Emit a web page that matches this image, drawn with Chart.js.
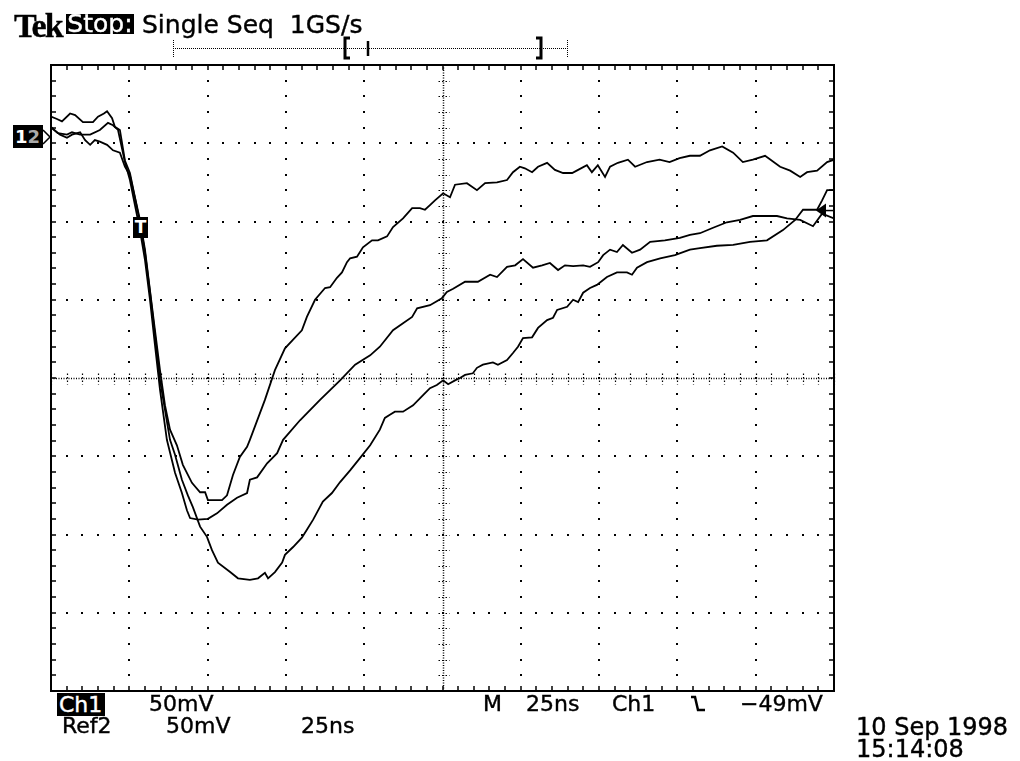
<!DOCTYPE html>
<html>
<head>
<meta charset="utf-8">
<title>Tek Single Seq 1GS/s</title>
<script src="https://cdn.jsdelivr.net/npm/chart.js@4.4.1/dist/chart.umd.min.js"></script>
<style>
  html, body { margin: 0; padding: 0; background: #fff; }
  #wrap { position: relative; width: 1020px; height: 761px; overflow: hidden; }
  #scope { position: absolute; left: 0; top: 0; }
  .lbl { position: absolute; font-family: 'DejaVu Sans', sans-serif; color: #000; line-height: 1; white-space: pre; -webkit-text-stroke: 0.4px #000; }
  .inv { background: #000; color: #fff; overflow: hidden; -webkit-text-stroke: 0.4px #fff; }
</style>
</head>
<body>
<div id="wrap">
  <canvas id="scope" width="1020" height="761" style="width:1020px;height:761px"></canvas>

  <div class="lbl" style="left:14px;top:7px;font:bold 34px 'Liberation Serif',serif;letter-spacing:-2px">Tek</div>
  <div class="lbl inv" style="left:66px;top:14px;width:68px;height:20px;font-size:25px;line-height:20px;text-align:center">Stop:</div>
  <div class="lbl" style="left:142px;top:12px;font-size:25px">Single Seq  1GS/s</div>

  <div class="lbl inv" style="left:13px;top:125px;width:30px;height:23px;font-size:18px;font-weight:bold;line-height:23px;padding-left:2px;box-sizing:border-box;-webkit-text-stroke:0">1<span style="color:#aaa">2</span></div>
  <div class="lbl inv" style="left:133px;top:217px;width:15px;height:21px;font-size:17px;font-weight:bold;line-height:21px;text-align:center;-webkit-text-stroke:0">T</div>

  <div class="lbl inv" style="left:57px;top:693px;width:48px;height:23px;font-size:22px;line-height:23px;padding-left:2px;box-sizing:border-box">Ch1</div>
  <div class="lbl" style="left:149px;top:693px;font-size:22px">50mV</div>
  <div class="lbl" style="left:483px;top:693px;font-size:22px">M</div>
  <div class="lbl" style="left:526px;top:693px;font-size:22px">25ns</div>
  <div class="lbl" style="left:612px;top:693px;font-size:22px">Ch1</div>
  <div class="lbl" style="left:740px;top:693px;font-size:22px">−49mV</div>

  <div class="lbl" style="left:62px;top:715px;font-size:22px">Ref2</div>
  <div class="lbl" style="left:166px;top:715px;font-size:22px">50mV</div>
  <div class="lbl" style="left:301px;top:715px;font-size:22px">25ns</div>

  <div class="lbl" style="left:856px;top:715px;font-size:24px">10 Sep 1998</div>
  <div class="lbl" style="left:856px;top:737px;font-size:24px">15:14:08</div>
</div>

<script>
// ==========================================
// Screen setup (25 ns/div, 50 mV/div)
// ==========================================

const T_MIN = 0, T_MAX = 250, T_DIV = 25;      // ns
const V_MIN = -200, V_MAX = 200, V_DIV = 50;   // mV
const H_DIVS = 10, V_DIVS = 8, MINOR = 5;

const GND_LEVEL = 154;   // "1 2" marker on the left edge, mV
const REF_LEVEL = 107;   // arrow on the right edge, mV

// ==========================================
// Traces (time ns, level mV)
// ==========================================

const TIME_A = [0, 1.9, 3.5, 6.1, 7.7, 10.2, 13.4, 15.0, 16.9, 17.9, 19.5, 20.4, 22.0, 23.6, 25.2, 26.8, 28.4, 30.0, 31.6, 33.2,
    34.8, 36.4, 38.0, 40.2, 42.1, 45.0, 47.6, 49.2, 50.1, 52.4, 54.6, 56.2, 58.1, 60.3, 62.6, 63.5, 68.3, 71.5, 74.7, 77.3,
    80.1, 81.7, 84.3, 87.5, 89.1, 91.3, 92.9, 94.5, 95.5, 97.7, 99.6, 102.5, 104.4, 107.3, 109.2, 112.4, 115.3, 117.8, 119.4, 121.0,
    122.6, 125.2, 127.4, 129.0, 132.8, 136.0, 138.6, 142.4, 145.6, 147.5, 149.7, 151.3, 153.6, 155.5, 158.4, 160.9, 163.5, 166.4, 168.3, 171.1,
    172.7, 174.6, 176.9, 178.5, 181.0, 184.2, 186.5, 190.3, 194.3, 197.5, 200.7, 204.0, 207.2, 210.4, 214.3, 217.8, 220.9, 224.1, 228.0, 232.8,
    236.0, 239.2, 241.4, 244.6, 247.8, 250];
const VOLT_A = [167, 165.5, 164, 169, 168, 163.5, 163.5, 167, 169, 170.5, 166, 160.5, 158.5, 139, 131, 115.5, 101, 82, 56, 30.5,
    5, -17.5, -33, -43, -55.5, -67, -73, -73, -78, -78, -78, -75, -62, -50.5, -44, -39.5, -14, 5, 19, 24.5,
    30.5, 39, 50, 57.5, 58, 64, 67.5, 74, 76.5, 77.5, 83.5, 88, 88, 90.5, 96.5, 102, 108.5, 108.5, 107.5, 110.5,
    113.5, 118, 115.5, 123.5, 124.5, 120, 124.5, 125, 126.5, 131.5, 135, 134, 131.5, 135, 137.5, 133, 131, 131, 133, 136,
    131.5, 136, 128.5, 135, 137.5, 139.5, 135, 138, 139.5, 138, 140.5, 142, 142, 145.5, 148, 144, 138, 139.5, 142, 135,
    132.5, 128.5, 131.5, 132.5, 138, 139.5];

const TIME_B = [0, 2.2, 5.1, 6.7, 9.3, 12.5, 15.6, 18.2, 19.8, 21.4, 23.6, 25.2, 26.8, 28.4, 30.0, 31.6, 33.2, 34.8, 37.0, 39.6,
    41.8, 43.4, 44.4, 46.9, 50.1, 53.0, 56.2, 59.4, 62.6, 63.5, 65.8, 69.0, 72.2, 74.1, 79.5, 85.9, 92.3, 97.1, 101.9, 105.0,
    109.2, 112.4, 115.3, 116.9, 121.0, 124.8, 126.4, 128.4, 132.2, 136.3, 140.2, 142.4, 145.6, 148.2, 150.7, 153.9, 156.8, 159.3, 161.9, 164.1,
    166.7, 169.9, 172.1, 174.7, 176.3, 178.5, 180.7, 182.6, 185.5, 188.1, 191.3, 196.0, 200.8, 204.0, 207.2, 211.4, 215.8, 220.0, 224.1, 228.0,
    231.8, 235.0, 239.2, 243.3, 246.2, 250];
const VOLT_B = [160.5, 156.5, 155.5, 157, 155.5, 155.5, 158.5, 163, 161.5, 158.5, 138, 126.5, 110.5, 94.5, 75.5, 50, 21, -7.5, -39.5, -60.5,
    -73.5, -84.5, -89.5, -90.5, -90, -86.5, -81, -76.5, -73.5, -65, -63.5, -54.5, -48, -39.5, -27, -14, -1.5, 8.5, 14.5, 20,
    30.5, 35, 39, 44.5, 46.5, 51, 55, 57, 61.5, 61.5, 66, 64.5, 71, 72, 76, 70.5, 72, 73.5, 69, 72,
    71.5, 72, 71, 74, 78.5, 82, 80.5, 85, 80, 82, 87, 88, 89.5, 91.5, 92.5, 96, 99.5, 101, 103.5, 103.5,
    103.5, 102, 101, 97, 105, 102];

const TIME_C = [0, 2.9, 5.1, 6.7, 9.3, 10.9, 12.5, 14.0, 15.6, 17.9, 19.8, 22.0, 23.6, 25.2, 26.8, 28.4, 30.0, 31.6, 33.2, 34.8,
    36.4, 38.0, 39.6, 41.8, 43.7, 45.3, 47.6, 49.8, 51.4, 53.3, 57.2, 59.7, 63.5, 66.1, 68.3, 69.3, 71.5, 73.8, 74.7, 77.3,
    80.1, 81.7, 83.7, 86.8, 89.7, 92.3, 95.5, 98.7, 101.9, 105.0, 106.6, 108.2, 109.8, 112.4, 115.6, 118.8, 121.0, 123.2, 125.2, 126.8,
    129.0, 130.6, 132.2, 134.7, 136.0, 137.9, 141.1, 142.7, 145.6, 147.5, 149.1, 150.7, 153.6, 155.5, 158.4, 160.3, 161.6, 164.8, 166.7, 168.3,
    169.9, 172.1, 174.3, 177.5, 180.7, 183.9, 185.5, 187.1, 190.3, 194.5, 199.2, 204.0, 207.2, 212.6, 217.8, 223.2, 228.6, 233.7, 237.6, 240.1,
    244.6, 246.2, 247.8, 250];
const VOLT_C = [160, 155.5, 153.5, 155.5, 157, 152, 149, 152, 151, 149, 145.5, 144, 135, 129.5, 115, 99.5, 80.5, 55, 27.5, -1.5,
    -20.5, -39.5, -49, -65, -75, -82.5, -95, -101.5, -110, -118, -124, -128, -129, -128, -124.5, -128, -124, -118, -113, -108,
    -102, -97, -90.5, -79, -73.5, -66.5, -59, -51, -43, -33, -25.5, -23.5, -21.5, -21.5, -17.5, -11, -6.5, -4.5, -1.5, -4,
    -1.5, 0, 2, 3, 6.5, 8.5, 10, 8.5, 11.5, 16, 20, 25.5, 26, 32, 37, 38.5, 43.5, 45.5, 50, 48.5,
    54.5, 57.5, 59.5, 64.5, 67.5, 67.5, 66, 70.5, 74, 76.5, 78.5, 82, 83, 84.5, 85, 87, 88, 94.5, 101, 107.5,
    107.5, 113.5, 120, 120];

// ==========================================
// Drawing helpers
// ==========================================

function toPoints(times, volts) {
    const n = Math.min(times.length, volts.length);
    const pts = [];
    for (let i = 0; i < n; i++) pts.push({ x: times[i], y: volts[i] });
    return pts;
}

function seg(ctx, x1, y1, x2, y2) {
    ctx.beginPath();
    ctx.moveTo(x1, y1);
    ctx.lineTo(x2, y2);
    ctx.stroke();
}

// Tek style graticule: dotted division lines, ticked centre cross, ticked frame
const graticule = {
    id: 'graticule',
    beforeDatasetsDraw(chart) {
        const { ctx, chartArea: a, scales: { x, y } } = chart;
        const minorT = T_DIV / MINOR, minorV = V_DIV / MINOR;
        const px = t => Math.round(x.getPixelForValue(t));
        const py = v => Math.round(y.getPixelForValue(v));
        const xc = px((T_MIN + T_MAX) / 2) + 0.5, yc = py((V_MIN + V_MAX) / 2) + 0.5;

        ctx.save();
        ctx.fillStyle = '#000';
        ctx.strokeStyle = '#000';

        for (let i = 1; i < H_DIVS; i++) {
            if (i === H_DIVS / 2) continue;
            const gx = px(T_MIN + i * T_DIV);
            for (let j = 0; j <= V_DIVS * MINOR; j++) ctx.fillRect(gx - 1, py(V_MIN + j * minorV) - 1, 2, 2);
        }
        for (let j = 1; j < V_DIVS; j++) {
            if (j === V_DIVS / 2) continue;
            const gy = py(V_MIN + j * V_DIV);
            for (let i = 0; i <= H_DIVS * MINOR; i++) ctx.fillRect(px(T_MIN + i * minorT) - 1, gy - 1, 2, 2);
        }

        // centre cross
        ctx.lineWidth = 1.5;
        ctx.setLineDash([1, 1.5]);
        seg(ctx, xc, a.top, xc, a.bottom);
        seg(ctx, a.left, yc, a.right, yc);
        ctx.lineWidth = 1.2;
        ctx.setLineDash([1.5, 2]);
        for (let j = 0; j <= V_DIVS * MINOR; j++) {
            const ty = py(V_MIN + j * minorV) + 0.5;
            seg(ctx, xc - 5, ty, xc + 6, ty);
        }
        for (let i = 0; i <= H_DIVS * MINOR; i++) {
            const tx = px(T_MIN + i * minorT) + 0.5;
            seg(ctx, tx, yc - 5, tx, yc + 6);
        }
        ctx.setLineDash([]);

        // frame ticks
        ctx.lineWidth = 1.5;
        for (let i = 1; i < H_DIVS * MINOR; i++) {
            const tx = px(T_MIN + i * minorT);
            seg(ctx, tx, a.top, tx, a.top + 5);
            seg(ctx, tx, a.bottom, tx, a.bottom - 5);
        }
        for (let j = 1; j < V_DIVS * MINOR; j++) {
            const ty = py(V_MIN + j * minorV);
            seg(ctx, a.left, ty, a.left + 5, ty);
            seg(ctx, a.right, ty, a.right - 5, ty);
        }

        ctx.lineWidth = 2;
        ctx.strokeRect(a.left, a.top, a.right - a.left, a.bottom - a.top);
        ctx.restore();
    }
};

// Level arrows, record bar and trigger slope glyph
const markers = {
    id: 'markers',
    afterDatasetsDraw(chart) {
        const { ctx, chartArea: a, scales: { y } } = chart;
        ctx.save();
        ctx.strokeStyle = '#000';
        ctx.fillStyle = '#000';

        // left ground arrow (outline)
        const gy = y.getPixelForValue(GND_LEVEL);
        ctx.lineWidth = 1.5;
        ctx.beginPath();
        ctx.moveTo(a.left - 8, gy - 7);
        ctx.lineTo(a.left - 1, gy);
        ctx.lineTo(a.left - 8, gy + 7);
        ctx.stroke();

        // right reference arrow (filled)
        const ry = y.getPixelForValue(REF_LEVEL);
        ctx.beginPath();
        ctx.moveTo(a.right - 18, ry);
        ctx.lineTo(a.right - 8, ry - 7);
        ctx.lineTo(a.right - 8, ry + 7);
        ctx.closePath();
        ctx.fill();
        ctx.lineWidth = 1.5;
        seg(ctx, a.right - 9, ry, a.right, ry);

        // record length bar above the screen
        ctx.lineWidth = 1;
        ctx.setLineDash([1, 1]);
        seg(ctx, 173, 48.5, 567, 48.5);
        seg(ctx, 173.5, 40, 173.5, 58);
        seg(ctx, 567.5, 40, 567.5, 58);
        ctx.setLineDash([]);
        ctx.lineWidth = 3;
        ctx.beginPath();
        ctx.moveTo(350, 38); ctx.lineTo(345, 38); ctx.lineTo(345, 58); ctx.lineTo(350, 58);
        ctx.stroke();
        ctx.beginPath();
        ctx.moveTo(536, 38); ctx.lineTo(541, 38); ctx.lineTo(541, 58); ctx.lineTo(536, 58);
        ctx.stroke();
        ctx.lineWidth = 2.5;
        seg(ctx, 368, 41, 368, 56);

        // falling edge trigger glyph
        ctx.lineWidth = 2.5;
        ctx.beginPath();
        ctx.moveTo(691, 697); ctx.lineTo(695, 697); ctx.lineTo(698, 710); ctx.lineTo(705, 710);
        ctx.stroke();
        ctx.restore();
    }
};

// ==========================================
// Chart
// ==========================================

function traceSet(times, volts) {
    return {
        data: toPoints(times, volts),
        borderColor: '#000',
        borderWidth: 1.8,
        pointRadius: 0,
        fill: false,
        tension: 0
    };
}

function initScope() {
    const ctx = document.getElementById('scope').getContext('2d');
    new Chart(ctx, {
        type: 'line',
        data: {
            datasets: [
                traceSet(TIME_A, VOLT_A),
                traceSet(TIME_B, VOLT_B),
                traceSet(TIME_C, VOLT_C)
            ]
        },
        options: {
            responsive: false,
            animation: false,
            devicePixelRatio: 1,
            layout: { padding: { left: 51, top: 65, right: 186, bottom: 70 } },
            plugins: { legend: { display: false }, tooltip: { enabled: false } },
            scales: {
                x: { type: 'linear', min: T_MIN, max: T_MAX, display: false },
                y: { type: 'linear', min: V_MIN, max: V_MAX, display: false }
            }
        },
        plugins: [graticule, markers]
    });
}

initScope();
</script>
</body>
</html>
